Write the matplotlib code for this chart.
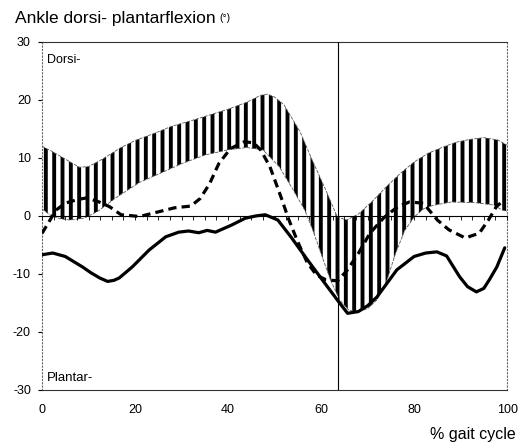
import numpy as np
import matplotlib.pyplot as plt

plt.rcParams['font.family'] = ['Liberation Sans', 'DejaVu Sans']
plt.rcParams['hatch.linewidth'] = 2.8

# normal range (band)
band_up_x = [0, 2, 5, 8, 10, 13, 17, 20, 24, 28, 32, 36, 40, 44, 47, 48.5, 50, 52,
             55.5, 58, 61, 63.5, 65.5, 68, 71, 74, 77, 80, 83, 86, 89, 92, 95, 98, 100]
band_up_y = [12, 11.2, 9.8, 8.4, 8.5, 9.8, 11.8, 13, 14.2, 15.5, 16.4, 17.4, 18.4, 19.6,
             20.8, 21, 20.5, 19.2, 14.5, 9.8, 4.5, -0.2, -0.7, 0.3, 2.5, 5, 7.3, 9.3,
             10.8, 11.8, 12.7, 13.2, 13.5, 13.1, 12.2]
band_lo_x = [0, 2, 4, 6, 9, 12, 16, 21, 25, 30, 35, 40, 44, 47.5, 51, 54, 56.5, 58.2,
             60, 62, 64, 66, 68, 70, 72, 74, 76, 78, 80, 82, 84, 88, 93, 97, 99, 100]
band_lo_y = [1.2, 0, -0.5, -0.7, -0.4, 0.8, 3.2, 5.8, 7.2, 9.0, 10.5, 11.4, 11.8, 11.4,
             8.5, 4.5, 1.0, -2.4, -6.5, -11, -14.5, -16.3, -16.5, -16, -14.5, -11.5,
             -6.5, -2.5, -0.2, 1.2, 1.8, 2.4, 2.3, 1.9, 1.0, 0.8]

# dashed curve
dash_x = [0, 1.5, 3, 5, 7.5, 9.5, 12, 14.5, 17, 21, 24.5, 28.5, 32, 34, 36, 38, 40.5,
          43.5, 45.5, 47, 49, 51.5, 53, 55, 57, 59, 61, 63.5, 65.5, 68, 70.5, 73.5,
          76.5, 79, 82, 85, 87.5, 91, 94, 96, 97.7, 99]
dash_y = [-3, -1, 1, 2.2, 2.8, 3.1, 2.5, 1.6, 0.2, -0.1, 0.6, 1.4, 1.7, 3, 5.5, 9,
          11.6, 12.8, 12.6, 11.4, 8.5, 3, -0.5, -4.5, -8, -10.2, -11, -11.2, -9.5,
          -6.5, -3, -0.3, 1.6, 2.4, 2.2, -0.7, -2.4, -3.8, -3, -0.7, 1.6, 2.5]

# solid curve
solid_x = [0, 2.3, 5, 8.7, 10.5, 12.4, 14.1, 15.5, 16.6, 19.4, 23, 26.6, 29.4, 31.5,
           33.7, 35.5, 37.3, 40.7, 43.7, 46, 48, 50.7, 53.5, 57.1, 60.8, 63.5, 65.7,
           68, 70, 72, 76.3, 80, 82.5, 84.9, 87, 89.8, 91.5, 93.4, 95, 96.2, 97.8, 99.5]
solid_y = [-6.7, -6.4, -7, -8.8, -9.8, -10.7, -11.3, -11.1, -10.7, -8.8, -5.9, -3.6,
           -2.8, -2.6, -2.9, -2.5, -2.8, -1.6, -0.4, 0, 0.2, -0.7, -3.6, -7.6, -11.6,
           -14.5, -16.8, -16.5, -15.5, -14, -9.3, -7, -6.4, -6.2, -6.9, -10.5, -12.2,
           -13.1, -12.5, -11, -8.8, -5.5]

toe_off = 63.6
y_ticks = [-30, -20, -10, 0, 10, 20, 30]
x_ticks = [0, 20, 40, 60, 80, 100]

fig = plt.figure(figsize=(5.19, 4.42), dpi=100)
ax = fig.add_axes([0.081, 0.118, 0.896, 0.787])

# band: put both edges on one grid for fill_between
grid = np.union1d(band_up_x, band_lo_x)
up = np.interp(grid, band_up_x, band_up_y)
lo = np.interp(grid, band_lo_x, band_lo_y)
ax.fill_between(grid, lo, up, facecolor='white', edgecolor='black', hatch='||',
                linewidth=0, zorder=2)
ax.plot(band_up_x, band_up_y, color='0.35', lw=0.6, ls=(0, (4, 1.5)), zorder=3)
ax.plot(band_lo_x, band_lo_y, color='0.35', lw=0.6, ls=(0, (4, 1.5)), zorder=3)

ax.plot(dash_x, dash_y, color='black', lw=2.3, ls=(0, (2.6, 1.6)), zorder=4)
ax.plot(solid_x, solid_y, color='black', lw=2.3, zorder=5,
        solid_joinstyle='round', solid_capstyle='round')

ax.axvline(toe_off, color='black', lw=0.8, zorder=6)

ax.set_xlim(0, 100)
ax.set_ylim(-30, 30)
ax.set_yticks(y_ticks)
ax.set_yticklabels([str(v) for v in y_ticks], fontsize=9)
ax.set_xticks(x_ticks)
ax.set_xticklabels([str(v) for v in x_ticks], fontsize=9)
ax.tick_params(axis='x', length=0, pad=10)
ax.tick_params(axis='y', length=3, width=0.8, pad=5)

for side in ['top', 'bottom']:
    ax.spines[side].set_linewidth(0.8)
    ax.spines[side].set_color('0.2')
for side in ['left', 'right']:
    ax.spines[side].set_linewidth(0.8)
    ax.spines[side].set_linestyle((0, (1, 2)))
    ax.spines[side].set_color('0.4')

# zero line with small ticks
zero = ax.secondary_xaxis(0.5)
zero.set_xticks(np.arange(0, 100.1, 2.5))
zero.tick_params(direction='out', length=3, width=0.6, labelbottom=False,
                 labeltop=False, top=False, bottom=True)
zero.spines['bottom'].set_linewidth(0.8)
zero.set_zorder(6)

ax.text(1, 26.9, 'Dorsi-', fontsize=9, va='center')
ax.text(1, -27.9, 'Plantar-', fontsize=9.5, va='center')

title = fig.text(0.029, 0.959, 'Ankle dorsi- plantarflexion', fontsize=12.5,
                 va='center')
ax.annotate('(°)', xy=(1, 0.5), xycoords=title, xytext=(3, 0),
            textcoords='offset points', fontsize=7.5, va='center')
fig.text(0.993, 0.016, '% gait cycle', fontsize=11.5, ha='right', va='center')

fig.savefig('out.png', dpi=100)
